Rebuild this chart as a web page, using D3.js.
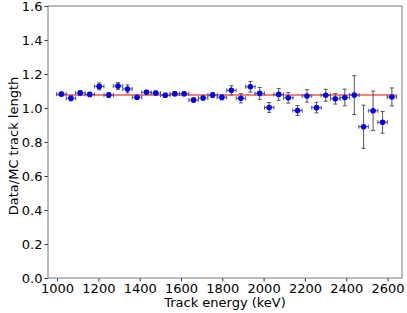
<!DOCTYPE html>
<html>
<head>
<meta charset="utf-8">
<script src="https://cdn.jsdelivr.net/npm/d3@7"></script>
<style>
  body { margin: 0; background: #fff; }
  text { font-family: "DejaVu Sans", sans-serif; }
</style>
</head>
<body>
<div id="chart"></div>
<script>
// bin centres (keV)
const energy = [1021, 1067, 1112, 1158, 1204, 1250, 1295, 1341, 1387, 1433, 1478, 1524,
                1570, 1615, 1661, 1707, 1753, 1798, 1844, 1890, 1936, 1981, 2027, 2073,
                2119, 2164, 2210, 2256, 2301, 2347, 2393, 2439, 2484, 2530, 2576, 2621];
const energyErr = 23;
const ratio = [1.082, 1.057, 1.088, 1.080, 1.127, 1.076, 1.129, 1.112, 1.063, 1.092, 1.088, 1.075,
               1.084, 1.084, 1.047, 1.059, 1.076, 1.063, 1.104, 1.057, 1.125, 1.086, 1.003, 1.080,
               1.060, 0.985, 1.071, 1.002, 1.075, 1.054, 1.062, 1.076, 0.890, 0.984, 0.916, 1.065];
const ratioErr = [0.012, 0.015, 0.015, 0.012, 0.020, 0.015, 0.020, 0.024, 0.012, 0.012, 0.012, 0.012,
                  0.012, 0.012, 0.012, 0.012, 0.015, 0.015, 0.027, 0.027, 0.031, 0.035, 0.029, 0.035,
                  0.031, 0.029, 0.037, 0.031, 0.035, 0.031, 0.049, 0.114, 0.127, 0.116, 0.064, 0.053];
const fitValue = 1.076;
const fitRange = [998, 2644];
const xTicks = [1000, 1200, 1400, 1600, 1800, 2000, 2200, 2400, 2600];
const yTicks = [0.0, 0.2, 0.4, 0.6, 0.8, 1.0, 1.2, 1.4, 1.6];

const margin = { top: 6, right: 5, bottom: 35, left: 48 };
const width = 407 - margin.left - margin.right;
const height = 313 - margin.top - margin.bottom;

const svg = d3.select("#chart")
    .append("svg")
    .attr("width", 407)
    .attr("height", 313)
    .append("g")
    .attr("transform", `translate(${margin.left},${margin.top})`);

const x = d3.scaleLinear().domain([956, 2670]).range([0, width]);
const y = d3.scaleLinear().domain([0, 1.6]).range([height, 0]);

const data = energy.map((e, i) => ({ e: e, r: ratio[i], dr: ratioErr[i] }));

// fit line
svg.append("line")
    .attr("x1", x(fitRange[0]))
    .attr("x2", x(fitRange[1]))
    .attr("y1", y(fitValue))
    .attr("y2", y(fitValue))
    .attr("stroke", "red")
    .attr("stroke-opacity", 0.5)
    .attr("stroke-width", 2);

// error bars
const eb = svg.selectAll("g.eb")
    .data(data)
    .enter()
    .append("g")
    .attr("stroke", "#555")
    .attr("stroke-width", 1);

eb.append("line")
    .attr("x1", d => x(d.e)).attr("x2", d => x(d.e))
    .attr("y1", d => y(d.r - d.dr)).attr("y2", d => y(d.r + d.dr));
eb.append("line")
    .attr("x1", d => x(d.e - energyErr)).attr("x2", d => x(d.e + energyErr))
    .attr("y1", d => y(d.r)).attr("y2", d => y(d.r));
// caps
[-1, 1].forEach(s => {
    eb.append("line")
        .attr("x1", d => x(d.e) - 2).attr("x2", d => x(d.e) + 2)
        .attr("y1", d => y(d.r + s * d.dr)).attr("y2", d => y(d.r + s * d.dr));
    eb.append("line")
        .attr("x1", d => x(d.e + s * energyErr)).attr("x2", d => x(d.e + s * energyErr))
        .attr("y1", d => y(d.r) - 2).attr("y2", d => y(d.r) + 2);
});

// points
svg.selectAll("circle")
    .data(data)
    .enter()
    .append("circle")
    .attr("cx", d => x(d.e))
    .attr("cy", d => y(d.r))
    .attr("r", 2.8)
    .attr("fill", "#0000ff");

// axes
const xAxis = svg.append("g")
    .attr("transform", `translate(0,${height})`)
    .call(d3.axisBottom(x).tickValues(xTicks).tickSize(3.5).tickPadding(2).tickFormat(d3.format("d")));
const yAxis = svg.append("g")
    .call(d3.axisLeft(y).tickValues(yTicks).tickSize(3.5).tickPadding(2).tickFormat(d3.format(".1f")));

[xAxis, yAxis].forEach(a => {
    a.select(".domain").remove();
    a.selectAll("line").attr("stroke", "#333");
    a.selectAll("text").attr("font-size", "13px").attr("fill", "#000");
});

// frame
svg.append("rect")
    .attr("width", width)
    .attr("height", height)
    .attr("fill", "none")
    .attr("stroke", "#777")
    .attr("stroke-width", 1);

// labels
svg.append("text")
    .attr("x", width / 2)
    .attr("y", height + 29)
    .attr("text-anchor", "middle")
    .attr("font-size", "13px")
    .text("Track energy (keV)");

svg.append("text")
    .attr("transform", "rotate(-90)")
    .attr("x", -height / 2 - 4)
    .attr("y", -30)
    .attr("text-anchor", "middle")
    .attr("font-size", "13px")
    .text("Data/MC track length");
</script>
</body>
</html>
